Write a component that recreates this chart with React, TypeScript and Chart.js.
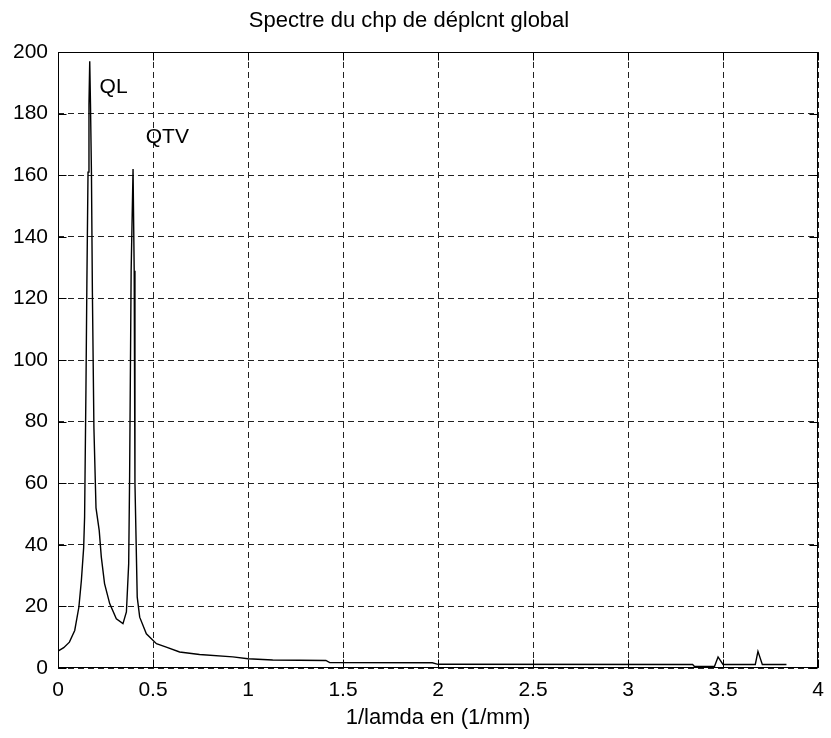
import React, { useEffect, useRef } from "react";
import { Chart, registerables } from "chart.js";

Chart.register(...registerables);

const chartTitle = "Spectre du chp de déplcnt global";
const xAxisTitle = "1/lamda en (1/mm)";

// 1/lambda (1/mm)
const freqX = [
  0, 0.03, 0.06, 0.088, 0.11, 0.123, 0.135, 0.14, 0.147, 0.152,
  0.158, 0.163, 0.167, 0.171, 0.176, 0.181, 0.189, 0.2, 0.217, 0.228,
  0.245, 0.272, 0.307, 0.342, 0.36, 0.372, 0.377, 0.385, 0.395, 0.401,
  0.405, 0.417, 0.43, 0.465, 0.518, 0.57, 0.64, 0.745, 0.92, 1.0,
  1.13, 1.41, 1.43, 1.97, 2.0, 3.34, 3.35, 3.455, 3.474, 3.5,
  3.67, 3.684, 3.707, 3.834,
];
// spectrum amplitude
const ampY = [
  5.5, 6.6, 8.4, 12.2, 19.8, 28.4, 39, 49, 90, 125,
  161, 183, 197, 183, 161, 122, 78, 52, 44.6, 36,
  27.4, 20.9, 16, 14.4, 18.2, 33.8, 62.5, 129, 162, 129,
  60, 23, 16.5, 11.1, 7.9, 6.8, 5.2, 4.4, 3.6, 3.0,
  2.6, 2.45, 1.75, 1.7, 1.2, 1.15, 0.5, 0.5, 3.6, 1.15,
  1.15, 5.4, 1.15, 1.15,
];

const xTicks = [0, 0.5, 1, 1.5, 2, 2.5, 3, 3.5, 4];
const yTicks = [0, 20, 40, 60, 80, 100, 120, 140, 160, 180, 200];

const peakLabels = ["QL", "QTV"];
const peakLabelX = [0.219, 0.462];
const peakLabelY = [186.6, 170.5];

const FONT = "'Liberation Sans', Arial, sans-serif";

const matlabAxesPlugin = {
  id: "matlabAxes",
  afterDraw(chart: any) {
    const { ctx, chartArea } = chart;
    const xs = chart.scales.x;
    const ys = chart.scales.y;
    const l = Math.round(chartArea.left) + 0.5;
    const r = Math.round(chartArea.right) - 0.5;
    const t = Math.round(chartArea.top) + 0.5;
    const b = Math.round(chartArea.bottom) - 0.5;
    ctx.save();
    ctx.strokeStyle = "#000";
    ctx.lineWidth = 1;
    ctx.setLineDash([]);
    ctx.strokeRect(l, t, r - l, b - t);
    const tl = 8;
    ctx.beginPath();
    xTicks.forEach((v) => {
      const px = Math.round(xs.getPixelForValue(v)) + 0.5;
      ctx.moveTo(px, b);
      ctx.lineTo(px, b - tl);
      ctx.moveTo(px, t);
      ctx.lineTo(px, t + tl);
    });
    yTicks.forEach((v) => {
      const py = Math.round(ys.getPixelForValue(v)) + 0.5;
      ctx.moveTo(l, py);
      ctx.lineTo(l + tl, py);
      ctx.moveTo(r, py);
      ctx.lineTo(r - tl, py);
    });
    ctx.stroke();
    ctx.fillStyle = "#000";
    ctx.font = `21px ${FONT}`;
    ctx.textAlign = "left";
    ctx.textBaseline = "alphabetic";
    peakLabels.forEach((txt, i) => {
      ctx.fillText(txt, xs.getPixelForValue(peakLabelX[i]), ys.getPixelForValue(peakLabelY[i]));
    });
    ctx.restore();
  },
};

export default function App() {
  const canvasRef = useRef<HTMLCanvasElement | null>(null);

  useEffect(() => {
    if (!canvasRef.current) return;
    const points = freqX.map((x, i) => ({ x, y: ampY[i] }));
    const chart = new Chart(canvasRef.current, {
      type: "scatter",
      data: {
        datasets: [
          {
            data: points,
            showLine: true,
            borderColor: "#000",
            borderWidth: 1.4,
            pointRadius: 0,
            pointHoverRadius: 0,
            tension: 0,
            fill: false,
          },
        ],
      },
      options: {
        responsive: false,
        animation: false,
        events: [],
        layout: { padding: { top: 0, left: 0, right: 13, bottom: 0 } },
        plugins: {
          legend: { display: false },
          tooltip: { enabled: false },
          title: {
            display: true,
            text: chartTitle,
            color: "#000",
            font: { family: FONT, size: 22, weight: "normal" },
            padding: { top: 8, bottom: 17.6 },
          },
        },
        scales: {
          x: {
            type: "linear",
            min: 0,
            max: 4,
            afterBuildTicks: (scale: any) => {
              scale.ticks = xTicks.map((v) => ({ value: v }));
            },
            afterFit: (scale: any) => {
              scale.height = 70;
              scale.paddingRight = 0;
              scale.paddingLeft = 0;
            },
            ticks: {
              color: "#000",
              font: { family: FONT, size: 21 },
              padding: 10,
              maxRotation: 0,
              autoSkip: false,
              callback: (v: any) => String(v),
            },
            grid: { color: "#222", lineWidth: 1, drawTicks: false },
            border: { display: false, dash: [6, 4] },
            title: {
              display: true,
              text: xAxisTitle,
              color: "#000",
              font: { family: FONT, size: 22 },
              padding: { top: 0, bottom: 7 },
            },
          },
          y: {
            type: "linear",
            min: 0,
            max: 200,
            afterBuildTicks: (scale: any) => {
              scale.ticks = yTicks.map((v) => ({ value: v }));
            },
            afterFit: (scale: any) => {
              scale.width = 58;
            },
            ticks: {
              color: "#000",
              font: { family: FONT, size: 21 },
              padding: 10,
              autoSkip: false,
              callback: (v: any) => String(v),
            },
            grid: { color: "#222", lineWidth: 1, drawTicks: false },
            border: { display: false, dash: [6, 4] },
          },
        },
      },
      plugins: [matlabAxesPlugin],
    });
    return () => chart.destroy();
  }, []);

  return (
    <div style={{ position: "absolute", left: 0, top: 0, width: 831, height: 738, background: "#fff" }}>
      <canvas ref={canvasRef} width={831} height={738} style={{ width: 831, height: 738, display: "block" }} />
    </div>
  );
}
